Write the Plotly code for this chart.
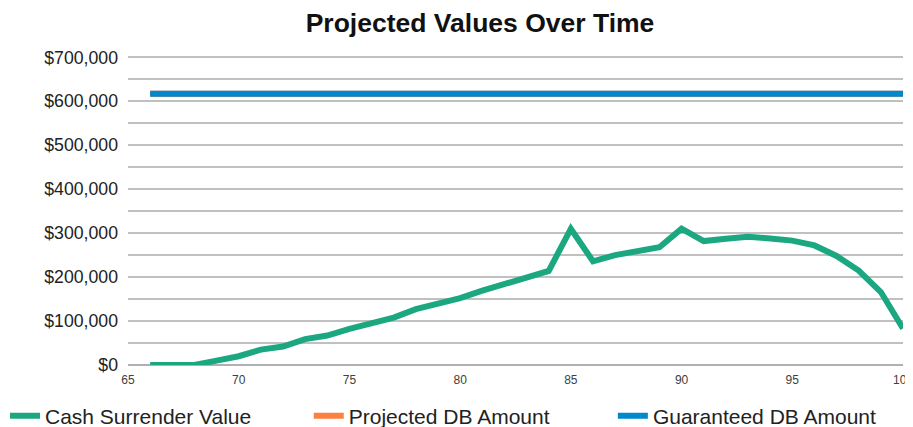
import plotly.graph_objects as go

ages = list(range(66, 101))
cash_surrender = [0, 0, 0, 10000, 20000, 35000, 42000, 59000, 67000, 82000,
                  95000, 108000, 127000, 140000, 152000, 169000, 183000, 197000, 214000, 310000,
                  236000, 250000, 259000, 268000, 310000, 282000, 287000, 292000, 288000, 283000,
                  272000, 248000, 215000, 166000, 83000]
projected_db = [617000] * 35
guaranteed_db = [617000] * 35

y_ticks = [0, 100000, 200000, 300000, 400000, 500000, 600000, 700000]
y_tick_labels = ["$0", "$100,000", "$200,000", "$300,000", "$400,000", "$500,000", "$600,000", "$700,000"]
x_ticks = [65, 70, 75, 80, 85, 90, 95, 100]
series_names = ["Cash Surrender Value", "Projected DB Amount", "Guaranteed DB Amount"]

FONT = "Arial, Liberation Sans, sans-serif"
GREEN = "#1ba780"
ORANGE = "#ff7f41"
BLUE = "#0088cc"
PAD = "\u00a0" * 9

fig = go.Figure()
fig.add_trace(go.Scatter(x=ages, y=cash_surrender, mode="lines", name=series_names[0] + PAD,
                         line=dict(color=GREEN, width=6)))
fig.add_trace(go.Scatter(x=ages, y=projected_db, mode="lines", name=series_names[1] + PAD + "\u00a0",
                         line=dict(color=ORANGE, width=6)))
fig.add_trace(go.Scatter(x=ages, y=guaranteed_db, mode="lines", name=series_names[2],
                         line=dict(color=BLUE, width=6)))

fig.update_layout(
    width=913, height=427,
    margin=dict(l=120, r=18, t=48, b=70, autoexpand=False),
    paper_bgcolor="white", plot_bgcolor="white",
    font=dict(family=FONT, color="#222222"),
    title=dict(text="<b>Projected Values Over Time</b>", x=472 / 913, xanchor="center",
               xref="container", y=1 - 15 / 427, yanchor="middle", yref="container",
               font=dict(size=26.5, color="#111111", family=FONT)),
    showlegend=True,
    legend=dict(orientation="h", xref="paper", yref="paper", x=-123 / 775, xanchor="left",
                y=-51 / 309, yanchor="middle", font=dict(size=21, family=FONT, color="#222222"),
                itemwidth=30, traceorder="normal", bgcolor="rgba(0,0,0,0)"),
)
fig.update_xaxes(range=[65, 100], tickvals=x_ticks, ticktext=[str(v) for v in x_ticks],
                 showgrid=False, zeroline=False, showline=False, ticks="",
                 ticklabelstandoff=6,
                 tickfont=dict(size=12, color="#404040", family=FONT))
fig.update_yaxes(range=[0, 703000], tickvals=y_ticks, ticktext=y_tick_labels,
                 showgrid=True, gridcolor="#c0c0c0", gridwidth=1.5, zeroline=True,
                 zerolinecolor="#b0b0b0", zerolinewidth=2,
                 minor=dict(dtick=50000, showgrid=True, gridcolor="#c0c0c0", gridwidth=1.5),
                 ticks="", ticklabelstandoff=9,
                 tickfont=dict(size=17.7, color="#222222", family=FONT))

fig.write_html("out.html")
